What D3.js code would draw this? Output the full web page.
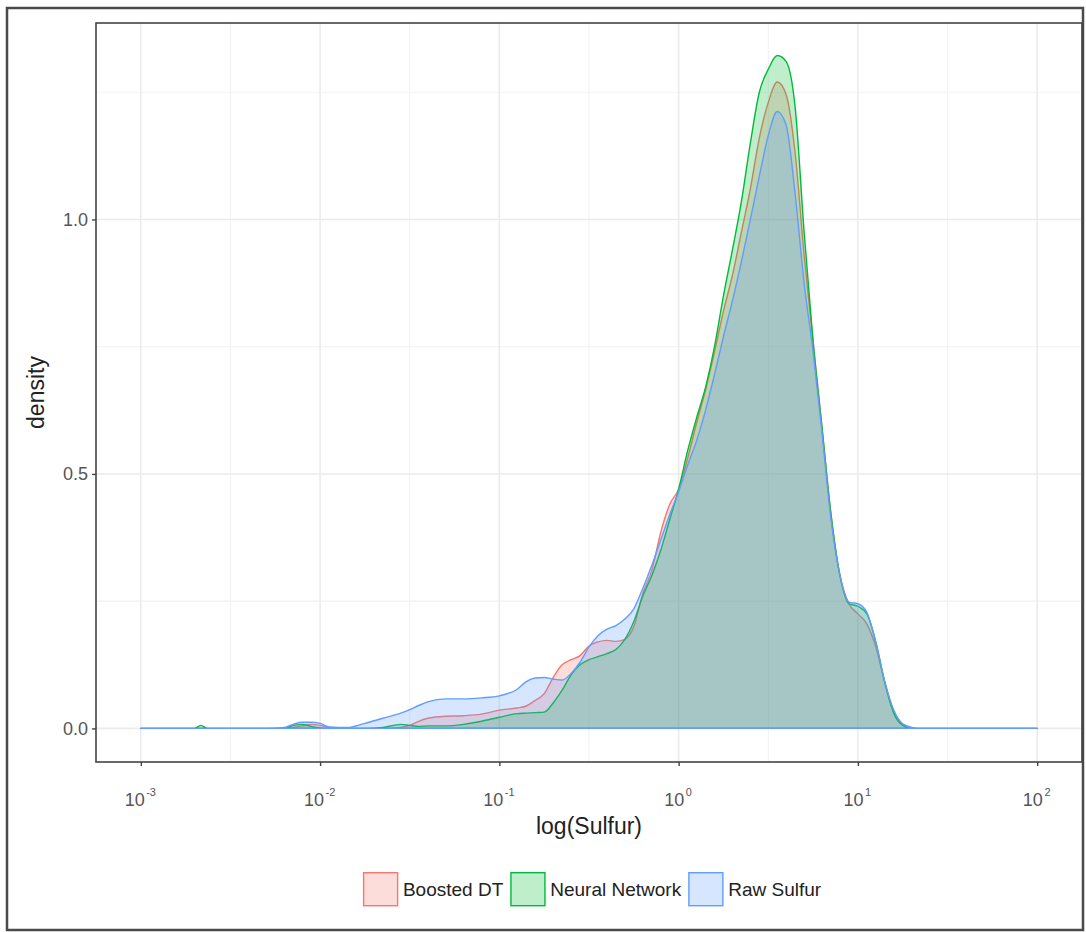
<!DOCTYPE html>
<html>
<head>
<meta charset="utf-8">
<script src="https://cdn.jsdelivr.net/npm/d3@7"></script>
<style>
  body { margin: 0; background: #fff; }
  text { font-family: "Liberation Sans", Arial, sans-serif; }
</style>
</head>
<body>
<svg id="chart"></svg>
<script>
// log10(Sulfur) positions where the densities were read
const logSulfur = [-3, -2.7, -2.665, -2.63, -2.3, -2.2, -2.15, -2.1, -2.05, -2.0, -1.95, -1.85, -1.75, -1.65, -1.55, -1.5, -1.45, -1.4, -1.3, -1.2, -1.1, -1.0,
  -0.9, -0.85, -0.8, -0.75, -0.7, -0.65, -0.6, -0.55, -0.5, -0.45, -0.4, -0.35, -0.3, -0.25, -0.2, -0.15, -0.1, -0.05,
  0, 0.05, 0.1, 0.15, 0.2, 0.25, 0.3, 0.35, 0.4, 0.45, 0.5, 0.55, 0.6, 0.65, 0.7, 0.75, 0.8, 0.85, 0.9, 0.95,
  1.0, 1.05, 1.1, 1.15, 1.2, 1.25, 1.3, 1.35, 1.5, 2.0];

const boostedDT = [0, 0, 0, 0, 0, 0, 0.002, 0.005, 0.008, 0.006, 0.002, 0, 0, 0, 0.002, 0.006, 0.014, 0.02, 0.024, 0.025, 0.028, 0.036,
  0.04, 0.044, 0.055, 0.068, 0.1, 0.125, 0.135, 0.143, 0.162, 0.17, 0.173, 0.171, 0.175, 0.2, 0.265, 0.31, 0.385, 0.44,
  0.47, 0.53, 0.6, 0.665, 0.74, 0.82, 0.89, 0.975, 1.06, 1.16, 1.23, 1.27, 1.245, 1.13, 0.93, 0.76, 0.59, 0.42, 0.3, 0.245,
  0.225, 0.205, 0.16, 0.09, 0.032, 0.007, 0.001, 0, 0, 0];

const neuralNetwork = [0, 0, 0.006, 0, 0, 0, 0.006, 0.008, 0.004, 0.001, 0, 0, 0, 0.002, 0.008, 0.006, 0.004, 0.005, 0.005, 0.008, 0.014, 0.022,
  0.029, 0.03, 0.031, 0.032, 0.05, 0.075, 0.105, 0.125, 0.135, 0.141, 0.147, 0.155, 0.175, 0.21, 0.26, 0.3, 0.35, 0.41,
  0.47, 0.545, 0.61, 0.67, 0.75, 0.85, 0.94, 1.035, 1.15, 1.25, 1.295, 1.322, 1.31, 1.22, 0.975, 0.76, 0.59, 0.42, 0.3, 0.245,
  0.24, 0.225, 0.17, 0.09, 0.03, 0.006, 0, 0, 0, 0];

const rawSulfur = [0, 0, 0, 0, 0, 0.002, 0.008, 0.012, 0.012, 0.01, 0.003, 0.002, 0.01, 0.02, 0.03, 0.037, 0.045, 0.052, 0.058, 0.058, 0.06, 0.064,
  0.077, 0.092, 0.099, 0.1, 0.097, 0.095, 0.108, 0.13, 0.16, 0.182, 0.195, 0.202, 0.215, 0.235, 0.275, 0.32, 0.37, 0.42,
  0.465, 0.517, 0.565, 0.625, 0.695, 0.77, 0.84, 0.917, 1.0, 1.085, 1.165, 1.212, 1.185, 1.05, 0.875, 0.74, 0.58, 0.41, 0.3, 0.248,
  0.245, 0.228, 0.168, 0.092, 0.036, 0.009, 0.002, 0, 0, 0];

const seriesNames = ["Boosted DT", "Neural Network", "Raw Sulfur"];
const seriesColors = ["#F8766D", "#00BA38", "#619CFF"];
const xTickExps = [-3, -2, -1, 0, 1, 2];
const xMinorExps = [-2.5, -1.5, -0.5, 0.5, 1.5];
const yTicks = [0, 0.5, 1.0];
const yMinor = [0.25, 0.75, 1.25];

const width = 1086, height = 932;
const panel = {left: 96, right: 1082, top: 23, bottom: 762};

const svg = d3.select("#chart")
    .attr("width", width)
    .attr("height", height);

svg.append("rect")
    .attr("width", width).attr("height", height)
    .attr("fill", "#fff");

// outer frame around the whole figure
svg.append("rect")
    .attr("x", 7).attr("y", 8)
    .attr("width", 1076).attr("height", 922)
    .attr("fill", "none")
    .attr("stroke", "#4a4a4a")
    .attr("stroke-width", 2.5);

const x = d3.scaleLinear().domain([-3.25, 2.25]).range([panel.left, panel.right]);
const y = d3.scaleLinear().domain([-0.066, 1.386]).range([panel.bottom, panel.top]);

const grid = svg.append("g");
grid.selectAll(".xminor").data(xMinorExps).enter().append("line")
    .attr("x1", d => x(d)).attr("x2", d => x(d))
    .attr("y1", panel.top).attr("y2", panel.bottom)
    .attr("stroke", "#f2f2f2").attr("stroke-width", 1.1);
grid.selectAll(".yminor").data(yMinor).enter().append("line")
    .attr("x1", panel.left).attr("x2", panel.right)
    .attr("y1", d => y(d)).attr("y2", d => y(d))
    .attr("stroke", "#f2f2f2").attr("stroke-width", 1.1);
grid.selectAll(".xmajor").data(xTickExps).enter().append("line")
    .attr("x1", d => x(d)).attr("x2", d => x(d))
    .attr("y1", panel.top).attr("y2", panel.bottom)
    .attr("stroke", "#ebebeb").attr("stroke-width", 1.6);
grid.selectAll(".ymajor").data(yTicks).enter().append("line")
    .attr("x1", panel.left).attr("x2", panel.right)
    .attr("y1", d => y(d)).attr("y2", d => y(d))
    .attr("stroke", "#ebebeb").attr("stroke-width", 1.6);

// densities, drawn in legend order so Raw Sulfur sits on top
const series = [boostedDT, neuralNetwork, rawSulfur];
const area = d3.area()
    .x((d, i) => x(logSulfur[i]))
    .y0(y(0))
    .y1(d => y(d))
    .curve(d3.curveMonotoneX);

series.forEach(function(vals, k) {
  svg.append("path")
      .datum(vals)
      .attr("d", d => area(d) + "Z")
      .attr("fill", seriesColors[k])
      .attr("fill-opacity", 0.25)
      .attr("stroke", seriesColors[k])
      .attr("stroke-width", 1.4)
      .attr("stroke-linejoin", "round");
});

// panel border
svg.append("rect")
    .attr("x", panel.left).attr("y", panel.top)
    .attr("width", panel.right - panel.left).attr("height", panel.bottom - panel.top)
    .attr("fill", "none")
    .attr("stroke", "#444")
    .attr("stroke-width", 1.6);

// y axis
const yAxis = svg.append("g").attr("transform", "translate(" + panel.left + ",0)")
    .call(d3.axisLeft(y).tickValues(yTicks).tickFormat(d3.format(".1f")).tickSize(4).tickPadding(4));
yAxis.select(".domain").remove();
yAxis.selectAll("line").attr("stroke", "#444").attr("stroke-width", 1.4);
yAxis.selectAll("text").attr("fill", "#555").style("font-size", "18px")
    .style("font-family", '"Liberation Sans", Arial, sans-serif');

// x axis with 10^k labels
const xAxis = svg.append("g").attr("transform", "translate(0," + panel.bottom + ")")
    .call(d3.axisBottom(x).tickValues(xTickExps).tickSize(4).tickFormat(""));
xAxis.select(".domain").remove();
xAxis.selectAll("line").attr("stroke", "#444").attr("stroke-width", 1.4);
xAxis.selectAll(".tick").append("text")
    .attr("y", 44)
    .attr("x", -1)
    .attr("text-anchor", "middle")
    .attr("fill", "#555")
    .style("font-size", "18px")
    .style("font-family", '"Liberation Sans", Arial, sans-serif')
    .each(function(d) {
      const t = d3.select(this);
      t.append("tspan").text("10");
      t.append("tspan").attr("dy", -10).attr("dx", 1.5).style("font-size", "11px").text(d);
    });

// axis titles
svg.append("text")
    .attr("x", (panel.left + panel.right) / 2)
    .attr("y", 834)
    .attr("text-anchor", "middle")
    .attr("fill", "#222")
    .style("font-size", "23px")
    .text("log(Sulfur)");

svg.append("text")
    .attr("transform", "translate(44," + (panel.top + panel.bottom) / 2 + ") rotate(-90)")
    .attr("text-anchor", "middle")
    .attr("fill", "#222")
    .style("font-size", "23px")
    .text("density");

// legend
const legend = svg.append("g");
let cursor = 0;
seriesNames.forEach(function(name, k) {
  const g = legend.append("g").attr("transform", "translate(" + cursor + ",0)");
  g.append("rect")
      .attr("x", 0.7).attr("y", 0.7)
      .attr("width", 34).attr("height", 33)
      .attr("fill", seriesColors[k]).attr("fill-opacity", 0.25)
      .attr("stroke", seriesColors[k]).attr("stroke-width", 1.4);
  const t = g.append("text")
      .attr("x", 40).attr("y", 24)
      .attr("fill", "#222")
      .style("font-size", "19px")
      .text(name);
  cursor += 40 + t.node().getComputedTextLength() + 7;
});
legend.attr("transform", "translate(" + (592 - (cursor - 7) / 2) + ",872)");
</script>
</body>
</html>
